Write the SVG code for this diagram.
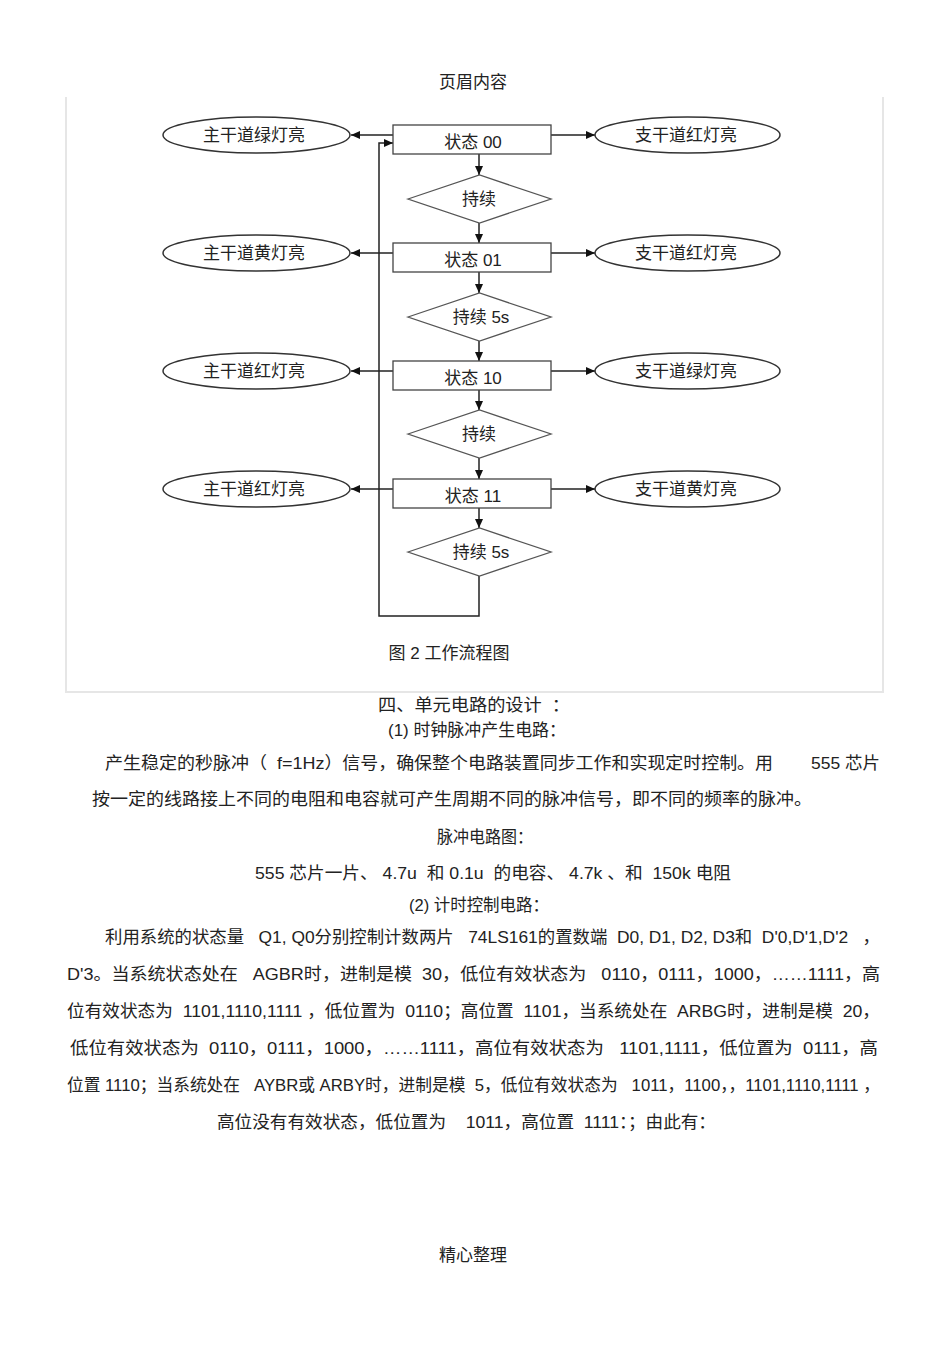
<svg xmlns="http://www.w3.org/2000/svg" width="950" height="1345" viewBox="0 0 950 1345">
<style>
text{font-family:"Liberation Sans","Noto Sans CJK SC",sans-serif;fill:#222;font-size:17px}
.c{text-anchor:middle}
.box{fill:#fff;stroke:#444;stroke-width:1.3}
.dia{fill:#fff;stroke:#555;stroke-width:1.3}
.ell{fill:#fff;stroke:#333;stroke-width:1.5}
.con{fill:none;stroke:#222;stroke-width:1.5}
.frame{fill:none;stroke:#e6e6e6;stroke-width:2}
.p{white-space:pre}
</style>
<defs>
<marker id="ah" markerUnits="userSpaceOnUse" markerWidth="10" markerHeight="10" refX="9" refY="5" orient="auto">
<path d="M0,1 L9,5 L0,9 Z" fill="#111"/>
</marker>
</defs>
<rect width="950" height="1345" fill="#fff"/>
<text class="c" x="473" y="88">页眉内容</text>
<path class="frame" d="M66,97 V692 H883 V97"/>

<g id="connectors">
<line class="con" x1="393" y1="135" x2="351" y2="135" marker-end="url(#ah)"/>
<line class="con" x1="551" y1="135" x2="595" y2="135" marker-end="url(#ah)"/>
<line class="con" x1="393" y1="253" x2="351" y2="253" marker-end="url(#ah)"/>
<line class="con" x1="551" y1="253" x2="595" y2="253" marker-end="url(#ah)"/>
<line class="con" x1="393" y1="371" x2="351" y2="371" marker-end="url(#ah)"/>
<line class="con" x1="551" y1="371" x2="595" y2="371" marker-end="url(#ah)"/>
<line class="con" x1="393" y1="489" x2="351" y2="489" marker-end="url(#ah)"/>
<line class="con" x1="551" y1="489" x2="595" y2="489" marker-end="url(#ah)"/>
<line class="con" x1="479" y1="154" x2="479" y2="175" marker-end="url(#ah)"/>
<line class="con" x1="479" y1="223" x2="479" y2="243" marker-end="url(#ah)"/>
<line class="con" x1="479" y1="272" x2="479" y2="293" marker-end="url(#ah)"/>
<line class="con" x1="479" y1="341" x2="479" y2="361" marker-end="url(#ah)"/>
<line class="con" x1="479" y1="390" x2="479" y2="410" marker-end="url(#ah)"/>
<line class="con" x1="479" y1="458" x2="479" y2="479" marker-end="url(#ah)"/>
<line class="con" x1="479" y1="508" x2="479" y2="528" marker-end="url(#ah)"/>
<path class="con" d="M479,576 V616 H379 V143 H393" marker-end="url(#ah)"/>
</g>

<g id="s00"><rect class="box" x="393" y="125" width="158" height="29"/><text class="c" x="473" y="148">状态 00</text></g>
<g id="s01"><rect class="box" x="393" y="243" width="158" height="29"/><text class="c" x="473" y="266">状态 01</text></g>
<g id="s10"><rect class="box" x="393" y="361" width="158" height="29"/><text class="c" x="473" y="384">状态 10</text></g>
<g id="s11"><rect class="box" x="393" y="479" width="158" height="29"/><text class="c" x="473" y="502">状态 11</text></g>

<g id="d1"><path class="dia" d="M408,199 L479.5,175 L551,199 L479.5,223 Z"/><text class="c" x="479" y="205">持续</text></g>
<g id="d2"><path class="dia" d="M408,317 L479.5,293 L551,317 L479.5,341 Z"/><text class="c" x="481" y="323">持续 5s</text></g>
<g id="d3"><path class="dia" d="M408,434 L479.5,410 L551,434 L479.5,458 Z"/><text class="c" x="479" y="440">持续</text></g>
<g id="d4"><path class="dia" d="M408,552 L479.5,528 L551,552 L479.5,576 Z"/><text class="c" x="481" y="558">持续 5s</text></g>

<g id="l1"><ellipse class="ell" cx="256.5" cy="135" rx="93.5" ry="18"/><text class="c" x="254" y="141">主干道绿灯亮</text></g>
<g id="r1"><ellipse class="ell" cx="687.5" cy="135" rx="92.5" ry="18"/><text class="c" x="686" y="141">支干道红灯亮</text></g>
<g id="l2"><ellipse class="ell" cx="256.5" cy="253" rx="93.5" ry="18"/><text class="c" x="254" y="259">主干道黄灯亮</text></g>
<g id="r2"><ellipse class="ell" cx="687.5" cy="253" rx="92.5" ry="18"/><text class="c" x="686" y="259">支干道红灯亮</text></g>
<g id="l3"><ellipse class="ell" cx="256.5" cy="371" rx="93.5" ry="18"/><text class="c" x="254" y="377">主干道红灯亮</text></g>
<g id="r3"><ellipse class="ell" cx="687.5" cy="371" rx="92.5" ry="18"/><text class="c" x="686" y="377">支干道绿灯亮</text></g>
<g id="l4"><ellipse class="ell" cx="256.5" cy="489" rx="93.5" ry="18"/><text class="c" x="254" y="495">主干道红灯亮</text></g>
<g id="r4"><ellipse class="ell" cx="687.5" cy="489" rx="92.5" ry="18"/><text class="c" x="686" y="495">支干道黄灯亮</text></g>

<text class="c" x="449" y="659">图 2 工作流程图</text>

<g id="body">
<text class="p" x="378" y="711" textLength="192" lengthAdjust="spacingAndGlyphs">四、单元电路的设计  ：</text>
<text class="p" x="388" y="736" textLength="178" lengthAdjust="spacingAndGlyphs">(1) 时钟脉冲产生电路：</text>
<text class="p" x="105" y="769" textLength="162" lengthAdjust="spacingAndGlyphs">产生稳定的秒脉冲（</text>
<text class="p" x="277" y="769" textLength="496" lengthAdjust="spacingAndGlyphs">f=1Hz）信号，确保整个电路装置同步工作和实现定时控制。用</text>
<text class="p" x="811" y="769" textLength="69" lengthAdjust="spacingAndGlyphs">555 芯片</text>
<text class="p" x="92" y="805" textLength="720" lengthAdjust="spacingAndGlyphs">按一定的线路接上不同的电阻和电容就可产生周期不同的脉冲信号，即不同的频率的脉冲。</text>
<text class="p" x="437" y="843" textLength="96" lengthAdjust="spacingAndGlyphs">脉冲电路图：</text>
<text class="p" x="255" y="879" textLength="476" lengthAdjust="spacingAndGlyphs">555 芯片一片、 4.7u  和 0.1u  的电容、 4.7k 、和  150k 电阻</text>
<text class="p" x="409" y="911" textLength="140" lengthAdjust="spacingAndGlyphs">(2) 计时控制电路：</text>
<text class="p" x="105" y="943" textLength="775" lengthAdjust="spacingAndGlyphs">利用系统的状态量   Q1, Q0分别控制计数两片   74LS161的置数端  D0, D1, D2, D3和  D'0,D'1,D'2   ，</text>
<text class="p" x="67" y="980" textLength="813" lengthAdjust="spacingAndGlyphs">D'3。当系统状态处在   AGBR时，进制是模  30，低位有效状态为   0110，0111，1000，……1111，高</text>
<text class="p" x="67" y="1017" textLength="813" lengthAdjust="spacingAndGlyphs">位有效状态为  1101,1110,1111 ，低位置为  0110；高位置  1101，当系统处在  ARBG时，进制是模  20，</text>
<text class="p" x="70" y="1054" textLength="808" lengthAdjust="spacingAndGlyphs">低位有效状态为  0110，0111，1000，……1111，高位有效状态为   1101,1111，低位置为  0111，高</text>
<text class="p" x="67" y="1091" textLength="813" lengthAdjust="spacingAndGlyphs">位置 1110；当系统处在   AYBR或 ARBY时，进制是模  5，低位有效状态为   1011，1100，，1101,1110,1111 ，</text>
<text class="p" x="217" y="1128" textLength="499" lengthAdjust="spacingAndGlyphs">高位没有有效状态，低位置为    1011，高位置  1111：；由此有：</text>
</g>

<text class="c" x="473" y="1261">精心整理</text>
</svg>
